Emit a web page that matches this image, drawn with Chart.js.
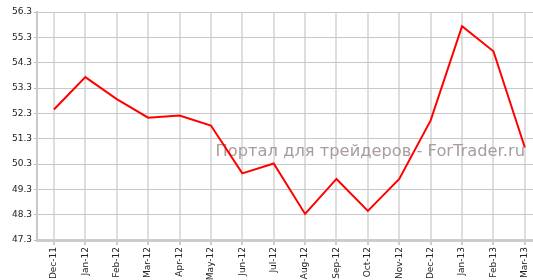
<!DOCTYPE html>
<html>
<head>
<meta charset="utf-8">
<script src="https://cdn.jsdelivr.net/npm/chart.js@4"></script>
<style>
  html, body { margin: 0; padding: 0; background: #fff; }
  #wrap { width: 533px; height: 280px; position: relative; }
</style>
</head>
<body>
<div id="wrap"><canvas id="chart"></canvas></div>
<script>
const months = ['Dec-11', 'Jan-12', 'Feb-12', 'Mar-12', 'Apr-12', 'May-12', 'Jun-12', 'Jul-12',
  'Aug-12', 'Sep-12', 'Oct-12', 'Nov-12', 'Dec-12', 'Jan-13', 'Feb-13', 'Mar-13'];
const values = [52.45, 53.73, 52.86, 52.13, 52.21, 51.82, 49.93, 50.32,
  48.33, 49.71, 48.45, 49.71, 52.02, 55.74, 54.75, 50.95];
const yTicks = [47.3, 48.3, 49.3, 50.3, 51.3, 52.3, 53.3, 54.3, 55.3, 56.3];
const watermark = 'Портал для трейдеров - ForTrader.ru';

const font = { family: 'DejaVu Sans', size: 9 };

const watermarkPlugin = {
  id: 'watermark',
  beforeDatasetsDraw(chart) {
    const ctx = chart.ctx;
    ctx.save();
    ctx.font = '16.3px "DejaVu Sans"';
    ctx.fillStyle = '#a89c9c';
    ctx.textAlign = 'right';
    ctx.textBaseline = 'alphabetic';
    ctx.fillText(watermark, 525, 156);
    ctx.restore();
  }
};

new Chart(document.getElementById('chart'), {
  type: 'line',
  data: {
    datasets: [{
      data: values.map((v, i) => ({ x: i, y: v })),
      borderColor: '#ff0000',
      borderWidth: 2,
      pointRadius: 0,
      tension: 0,
      fill: false
    }]
  },
  options: {
    responsive: true,
    maintainAspectRatio: false,
    animation: false,
    layout: { padding: { top: 12, right: 0, left: 0, bottom: 0 } },
    plugins: { legend: { display: false }, tooltip: { enabled: false } },
    scales: {
      x: {
        type: 'linear',
        min: -0.54,
        max: 15.26,
        afterBuildTicks: (s) => { s.ticks = months.map((m, i) => ({ value: i })); },
        afterFit: (s) => { s.height = 40; s.paddingLeft = 0; s.paddingRight = 0; },
        ticks: {
          autoSkip: false,
          maxRotation: 90,
          minRotation: 90,
          color: '#222',
          font,
          padding: 2,
          callback: (v) => months[v]
        },
        grid: { color: '#dedede', lineWidth: 2, tickLength: 5, tickColor: '#cccccc' },
        border: { color: '#cccccc', width: 3 }
      },
      y: {
        min: 47.3,
        max: 56.3,
        afterBuildTicks: (s) => { s.ticks = yTicks.map(v => ({ value: v })); },
        afterFit: (s) => { s.width = 37; },
        ticks: {
          color: '#222',
          font,
          padding: 2,
          callback: (v) => v.toFixed(1)
        },
        grid: { color: '#c8c8c8', lineWidth: 1, tickLength: 3, tickColor: '#bbbbbb' },
        border: { color: '#c8c8c8', width: 2 }
      }
    }
  },
  plugins: [watermarkPlugin]
});
</script>
</body>
</html>
